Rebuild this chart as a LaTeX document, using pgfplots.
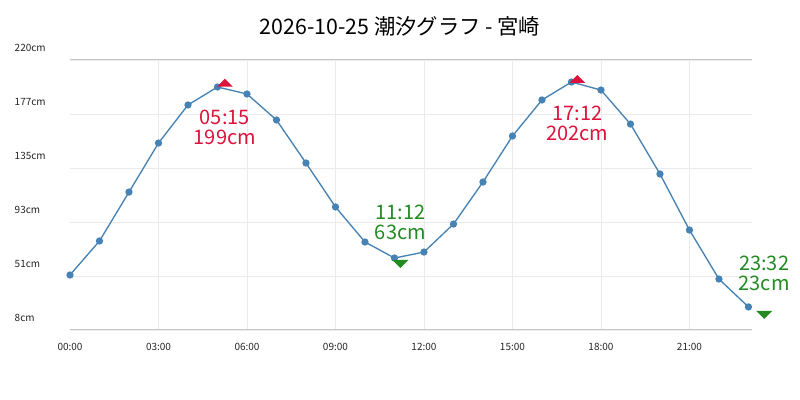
\documentclass[border=0pt]{standalone}
\usepackage{pgfplots}
\pgfplotsset{compat=1.18}
\usepackage{fontspec}
\setmainfont{Noto Sans CJK JP}
\definecolor{linec}{RGB}{70,130,180}
\definecolor{hic}{RGB}{220,20,60}
\definecolor{loc}{RGB}{34,139,34}
\pgfdeclareplotmark{tideup}{\pgfpathmoveto{\pgfpoint{-6pt}{0pt}}\pgfpathlineto{\pgfpoint{6pt}{0pt}}\pgfpathlineto{\pgfpoint{0pt}{6pt}}\pgfpathclose\pgfusepathqfill}
\pgfdeclareplotmark{tidedown}{\pgfpathmoveto{\pgfpoint{-6pt}{0pt}}\pgfpathlineto{\pgfpoint{6pt}{0pt}}\pgfpathlineto{\pgfpoint{0pt}{-6pt}}\pgfpathclose\pgfusepathqfill}
\begin{document}
\begin{tikzpicture}[x=1pt,y=1pt]
\useasboundingbox (0,0) rectangle (600,300);
\fill[white] (0,0) rectangle (600,300);
\node at (300,280.5) {\fontsize{16}{20}\selectfont 2026-10-25 潮汐グラフ - 宮崎};
\begin{axis}[
  at={(52.5pt,52.5pt)}, anchor=south west, scale only axis,
  width=511.5pt, height=202.5pt,
  xmin=0, xmax=23.12, ymin=8, ymax=220,
  clip=false,
  axis line style={draw=none},
  tick style={draw=none},
  xtick={0,3,6,9,12,15,18,21},
  xticklabels={00:00,03:00,06:00,09:00,12:00,15:00,18:00,21:00},
  minor xtick={3,6,9,12,15,18,21},
  xminorgrids,
  minor grid style={color=black!8, line width=0.6pt},
  ytick={8,50.4,92.8,135.2,177.6,220},
  yticklabels={8cm,51cm,93cm,135cm,177cm,220cm},
  ymajorgrids,
  major grid style={color=black!8, line width=0.6pt},
  extra y ticks={8,220},
  extra y tick labels={},
  extra y tick style={major grid style={color=black!22, line width=0.75pt}},
  ticklabel style={font=\fontsize{7.5}{9}\selectfont, text=black!85},
  xticklabel style={anchor=center, yshift=-12.75pt},
  yticklabel style={anchor=west, xshift=-45pt, yshift=9pt},
]
\addplot[color=linec, line width=1pt, mark=*, mark size=2.2pt, mark options={fill=linec, draw=linec}] coordinates {
(0,51.2) (1,77.9) (2,116.3) (3,154.8) (4,184.7) (5,198.8) (6,193.3) (7,172.9)
(8,139.1) (9,104.6) (10,77.1) (11,64.5) (12,69.2) (13,91.2) (14,124.2) (15,160.3)
(16,188.6) (17,202.7) (18,196.4) (19,169.7) (20,130.5) (21,86.5) (22,48.0) (23,26.1)
};
\addplot[only marks, mark=tideup, color=hic] coordinates {(5.25,199) (17.2,202)};
\addplot[only marks, mark=tidedown, color=loc] coordinates {(11.2,63) (23.533,23)};
\node[text=hic, anchor=base, font=\fontsize{15}{15}\selectfont, yshift=-28.5pt] at (axis cs:5.25,199) {05:15};
\node[text=hic, anchor=base, font=\fontsize{15}{15}\selectfont, yshift=-43.5pt] at (axis cs:5.25,199) {199cm};
\node[text=hic, anchor=base, font=\fontsize{15}{15}\selectfont, yshift=-28.5pt] at (axis cs:17.2,202) {17:12};
\node[text=hic, anchor=base, font=\fontsize{15}{15}\selectfont, yshift=-43.5pt] at (axis cs:17.2,202) {202cm};
\node[text=loc, anchor=base, font=\fontsize{15}{15}\selectfont, yshift=30pt] at (axis cs:11.2,63) {11:12};
\node[text=loc, anchor=base, font=\fontsize{15}{15}\selectfont, yshift=15pt] at (axis cs:11.2,63) {63cm};
\node[text=loc, anchor=base, font=\fontsize{15}{15}\selectfont, yshift=30pt] at (axis cs:23.533,23) {23:32};
\node[text=loc, anchor=base, font=\fontsize{15}{15}\selectfont, yshift=15pt] at (axis cs:23.533,23) {23cm};
\end{axis}
\end{tikzpicture}
\end{document}
